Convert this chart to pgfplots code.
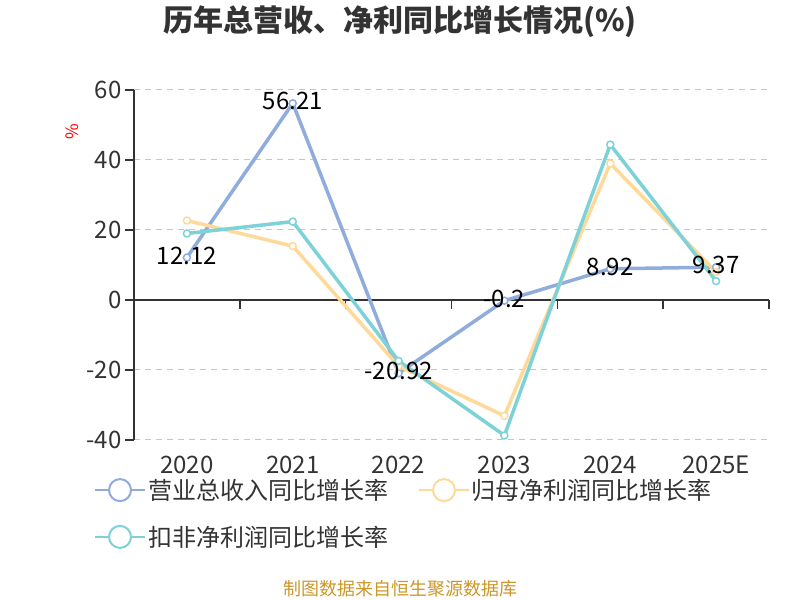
\documentclass[border=0pt]{standalone}
\usepackage{fontspec}
\setmainfont{Noto Sans CJK SC}
\usepackage{pgfplots}
\pgfplotsset{compat=1.18}

\definecolor{cRev}{RGB}{143,172,220}
\definecolor{cNet}{RGB}{255,217,153}
\definecolor{cDed}{RGB}{125,210,215}
\definecolor{txt}{RGB}{51,51,51}
\definecolor{src}{RGB}{204,150,40}

\pgfplotstableread{
x y lab
0 12.12 12.12
1 56.21 56.21
2 -20.92 -20.92
3 -0.2 -0.2
4 8.92 8.92
5 9.37 9.37
}\revenue

\pgfplotstableread{
x y
0 22.7
1 15.4
2 -18.9
3 -33.1
4 39.0
5 8.0
}\netprofit

\pgfplotstableread{
x y
0 19.0
1 22.4
2 -17.4
3 -38.7
4 44.4
5 5.4
}\deducted

\begin{document}
\begin{tikzpicture}
\useasboundingbox (0,0) rectangle (800bp,600bp);
\begin{axis}[
    at={(134bp,160bp)}, anchor=south west,
    scale only axis,
    width=635bp, height=350bp,
    xmin=-0.5, xmax=5.5,
    ymin=-40, ymax=60,
    axis x line=none,
    axis y line*=left,
    y axis line style={txt, line width=1.5bp, -},
    ytick={-40,-20,0,20,40,60},
    major tick length=9bp,
    tick style={txt, line width=1.5bp},
    ytick pos=left,
    tick align=outside,
    yticklabel style={font=\fontsize{24bp}{26bp}\selectfont, text=txt},
    /pgf/number format/assume math mode=true,
    ymajorgrids=true,
    grid style={gray!45, line width=1bp, dash pattern=on 6bp off 5bp},
    clip=false,
    legend columns=2,
    legend cell align=left,
    legend style={at={(-0.068,-0.1)}, anchor=north west, draw=none, fill=none,
        font=\fontsize{24bp}{26bp}\selectfont, text=txt,
        /tikz/every even column/.append style={column sep=28bp},
        row sep=21bp},
    legend image code/.code={
        \draw[#1, mark=none, line width=2bp] (0bp,0bp) -- (50bp,0bp);
        \draw[#1, mark=none, line width=2bp, fill=white] (25bp,0bp) circle (11bp);
    },
]
% custom zero line with boundary ticks
\draw[txt, line width=1.5bp] (axis cs:-0.5,0) -- (axis cs:5.5,0);
\draw[txt, line width=1.5bp] (axis cs:0.5,0) -- ([yshift=-9bp]axis cs:0.5,0);
\draw[txt, line width=1.5bp] (axis cs:1.5,0) -- ([yshift=-9bp]axis cs:1.5,0);
\draw[txt, line width=1.5bp] (axis cs:2.5,0) -- ([yshift=-9bp]axis cs:2.5,0);
\draw[txt, line width=1.5bp] (axis cs:3.5,0) -- ([yshift=-9bp]axis cs:3.5,0);
\draw[txt, line width=1.5bp] (axis cs:4.5,0) -- ([yshift=-9bp]axis cs:4.5,0);
\draw[txt, line width=1.5bp] (axis cs:5.5,0) -- ([yshift=-9bp]axis cs:5.5,0);
% category labels at the bottom
\node[font=\fontsize{24bp}{26bp}\selectfont, text=txt, yshift=-25bp] at (axis cs:0,-40) {2020};
\node[font=\fontsize{24bp}{26bp}\selectfont, text=txt, yshift=-25bp] at (axis cs:1,-40) {2021};
\node[font=\fontsize{24bp}{26bp}\selectfont, text=txt, yshift=-25bp] at (axis cs:2,-40) {2022};
\node[font=\fontsize{24bp}{26bp}\selectfont, text=txt, yshift=-25bp] at (axis cs:3,-40) {2023};
\node[font=\fontsize{24bp}{26bp}\selectfont, text=txt, yshift=-25bp] at (axis cs:4,-40) {2024};
\node[font=\fontsize{24bp}{26bp}\selectfont, text=txt, yshift=-25bp] at (axis cs:5,-40) {2025E};

\addplot[cRev, line width=3.5bp, mark=*, mark size=3.5bp,
    mark options={fill=white, line width=1.5bp}] table[x=x, y=y] {\revenue};
\addlegendentry{营业总收入同比增长率}
\addplot[cNet, line width=3.5bp, mark=*, mark size=3.5bp,
    mark options={fill=white, line width=1.5bp}] table[x=x, y=y] {\netprofit};
\addlegendentry{归母净利润同比增长率}
\addplot[cDed, line width=3.5bp, mark=*, mark size=3.5bp,
    mark options={fill=white, line width=1.5bp}] table[x=x, y=y] {\deducted};
\addlegendentry{扣非净利润同比增长率}

% value labels on top of the lines
\addplot[draw=none, mark=none, forget plot,
    nodes near coords, point meta=explicit symbolic,
    nodes near coords style={anchor=center, yshift=2bp, text=black,
        font=\fontsize{24bp}{26bp}\selectfont}]
    table[x=x, y=y, meta=lab] {\revenue};
\end{axis}

\node[font=\bfseries\fontsize{30bp}{32bp}\selectfont, text=txt] at (400bp,578bp) {历年总营收、净利同比增长情况(\%)};
\node[font=\fontsize{17bp}{18bp}\selectfont, text=red, rotate=90] at (72bp,468bp) {\%};
\node[font=\fontsize{18bp}{20bp}\selectfont, text=src] at (400bp,11bp) {制图数据来自恒生聚源数据库};
\end{tikzpicture}
\end{document}
